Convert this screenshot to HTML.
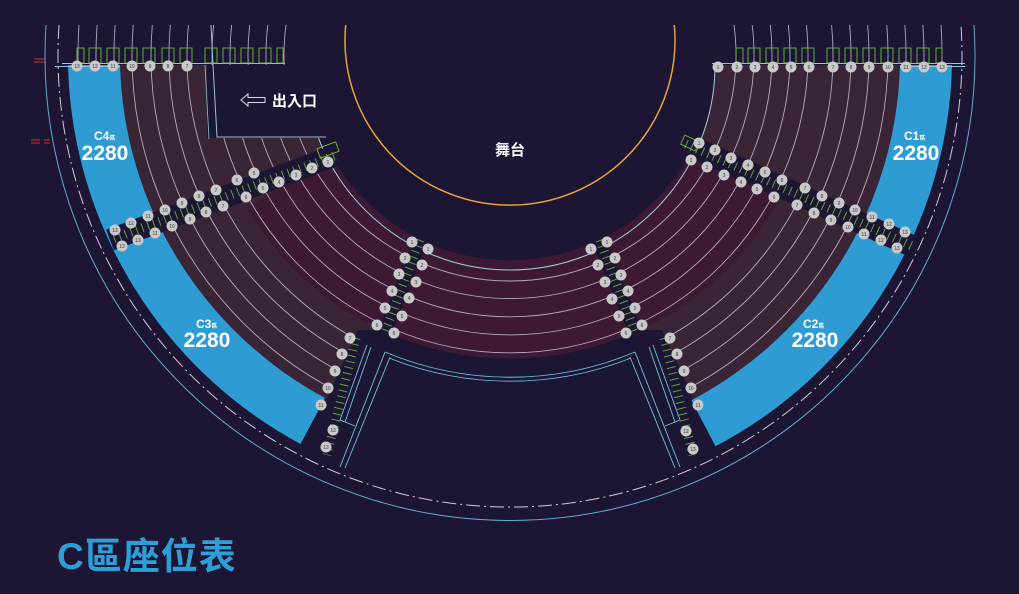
<!DOCTYPE html>
<html><head><meta charset="utf-8">
<style>
html,body{margin:0;padding:0;background:#1c1534;}
svg{display:block}
.c circle{fill:#c9c9c9}
.c text{font:bold 5px "Liberation Sans",sans-serif;fill:#666;text-anchor:middle}
.row{fill:none;stroke:#c9c6d6;stroke-width:0.9;opacity:.85}
.t{font-family:"Liberation Sans","Noto Sans CJK TC",sans-serif;font-weight:bold;fill:#fff}
</style></head>
<body>
<svg width="1019" height="594" viewBox="0 0 1019 594" xmlns="http://www.w3.org/2000/svg">
<defs>
<clipPath id="cl">
<path d="M120,65 A390 390 0 1 0 900,65 L715,65 A205 205 0 1 1 305,65 Z"/>
<rect x="60" y="25" width="900" height="40"/>
</clipPath>
</defs>
<rect width="1019" height="594" fill="#1c1534"/>

<!-- brown ring -->
<path d="M120,65 A390 390 0 1 0 900,65 L715,65 A205 205 0 1 1 305,65 Z" fill="#3a2536"/>
<!-- purple inner -->
<path d="M247,208 A305 305 0 0 0 786,185 L696,142 A205 205 0 0 1 332.5,157.5 Z" fill="#3d1934"/>

<!-- rows -->
<g clip-path="url(#cl)">
<path class="row" d="M286,25 A226 226 0 1 0 734,25"/>
<path class="row" d="M267.8,25 A244 244 0 1 0 752.2,25"/>
<path class="row" d="M249.7,25 A262 262 0 1 0 770.3,25"/>
<path class="row" d="M231.6,25 A280 280 0 1 0 788.4,25"/>
<path class="row" d="M213.5,25 A298 298 0 1 0 806.5,25"/>
<path class="row" d="M188.4,25 A323 323 0 1 0 831.6,25"/>
<path class="row" d="M170.3,25 A341 341 0 1 0 849.7,25"/>
<path class="row" d="M152.3,25 A359 359 0 1 0 867.7,25"/>
<path class="row" d="M133.2,25 A378 378 0 1 0 886.8,25"/>
<path class="row" d="M115.1,25 A396 396 0 1 0 904.9,25"/>
<path class="row" d="M97.1,25 A414 414 0 1 0 922.9,25"/>
<path class="row" d="M79,25 A432 432 0 1 0 941,25"/>
</g>
<path d="M305,65 A205 205 0 1 0 715,65" fill="none" stroke="#9fd0e0" stroke-width="1"/>
<!-- dark bottom center (below purple) -->
<path d="M298,462 L358,330 L381,330 A305 305 0 0 0 639,330 L662,330 L722,462 Z" fill="#1c1534"/>
<!-- exit region -->
<rect x="207" y="65" width="125" height="73" fill="#1c1534"/>
<path d="M211,25 L213,65 L217,137 L326,137" fill="none" stroke="#8fc7dc" stroke-width="1"/>
<path d="M205,65 L209,139" fill="none" stroke="#8fc7dc" stroke-width="0.8"/>

<!-- blue -->
<path d="M68,65 L120,65 A390 390 0 0 0 325,398 L300.5,444 A442 442 0 0 1 68,65 Z" fill="#2e9bd3"/>
<path d="M952,65 L900,65 A390 390 0 0 1 691.4,400.2 L715.5,446.3 A442 442 0 0 0 952,65 Z" fill="#2e9bd3"/>

<!-- passages lines -->
<g fill="none" stroke="#6fc3d8" stroke-width="0.9">
<path d="M385,352 A322 322 0 0 0 635,352"/>
<path d="M389,358 A327 327 0 0 0 631,358"/>
<path d="M385,352 L340,467"/><path d="M390,357 L345,468"/>
<path d="M635,352 L680,467"/><path d="M630,357 L675,468"/>
<path d="M367,345 L340,420 L355,426"/><path d="M371,347 L345,422"/>
<path d="M653,345 L680,420 L665,426"/><path d="M649,347 L675,422"/>
</g>

<!-- outer lines -->
<path d="M46,25 A465 465 0 1 0 974,25" fill="none" stroke="#5fb0cc" stroke-width="1"/>
<path d="M59,25 A452 452 0 1 0 961,25" fill="none" stroke="#d8c8d8" stroke-width="1" stroke-dasharray="14 4 2 4"/>

<!-- stage -->
<path d="M345.7,25 A165 165 0 1 0 674.3,25" fill="none" stroke="#e8a634" stroke-width="1.5"/>

<!-- top lines -->
<g stroke="#8fc7dc" stroke-width="1" fill="none">
<path d="M62,63.5 L285,63.5"/><path d="M55,66.5 L120,66.5"/>
<path d="M712,63.5 L965,63.5"/><path d="M900,66.5 L965,66.5"/>
</g>
<g fill="none" stroke="#6dbb3a" stroke-width="0.9">
<rect x="77" y="48" width="7" height="15"/><rect x="89" y="48" width="12" height="15"/>
<rect x="107" y="48" width="12" height="15"/><rect x="125" y="48" width="12" height="15"/>
<rect x="143" y="48" width="12" height="15"/><rect x="162" y="48" width="12" height="15"/>
<rect x="180" y="48" width="12" height="15"/><rect x="205" y="48" width="12" height="15"/>
<rect x="223" y="48" width="12" height="15"/><rect x="241" y="48" width="12" height="15"/>
<rect x="259" y="48" width="12" height="15"/><rect x="277" y="48" width="6" height="15"/>
<rect x="736" y="48" width="7" height="15"/><rect x="748" y="48" width="12" height="15"/>
<rect x="766" y="48" width="12" height="15"/><rect x="784" y="48" width="12" height="15"/>
<rect x="802" y="48" width="12" height="15"/><rect x="827" y="48" width="12" height="15"/>
<rect x="845" y="48" width="12" height="15"/><rect x="863" y="48" width="12" height="15"/>
<rect x="881" y="48" width="12" height="15"/><rect x="899" y="48" width="12" height="15"/>
<rect x="917" y="48" width="12" height="15"/><rect x="936" y="48" width="6" height="15"/>
</g>

<!-- aisles -->
<g stroke="#1c1534" stroke-linecap="butt">
<line x1="334" y1="156" x2="110" y2="240" stroke-width="22"/>
<line x1="686" y1="144" x2="912" y2="246" stroke-width="22"/>
<line x1="422" y1="238" x2="383" y2="336" stroke-width="14"/>
<line x1="598" y1="238" x2="637" y2="336" stroke-width="14"/>
</g>
<g stroke="#6dbb3a" stroke-width="9" stroke-dasharray="1 5" opacity=".85">
<line x1="334" y1="156" x2="110" y2="240"/>
<line x1="686" y1="144" x2="912" y2="246"/>
<line x1="420" y1="240" x2="385" y2="332"/>
<line x1="600" y1="240" x2="635" y2="332"/>
<line x1="356" y1="338" x2="327" y2="455"/>
<line x1="664" y1="338" x2="693" y2="455"/>
</g>
<rect x="318" y="145" width="20" height="10" transform="rotate(-20 328 150)" fill="none" stroke="#6dbb3a" stroke-width="0.9"/>
<rect x="682" y="138" width="16" height="10" transform="rotate(25 690 143)" fill="none" stroke="#6dbb3a" stroke-width="0.9"/>

<!-- seats -->
<g class="c">
<g><circle cx="77" cy="66" r="5.5"/><text x="77" y="67.8">13</text></g>
<g><circle cx="95" cy="66" r="5.5"/><text x="95" y="67.8">12</text></g>
<g><circle cx="113" cy="66" r="5.5"/><text x="113" y="67.8">11</text></g>
<g><circle cx="132" cy="66" r="5.5"/><text x="132" y="67.8">10</text></g>
<g><circle cx="150" cy="66" r="5.5"/><text x="150" y="67.8">9</text></g>
<g><circle cx="168" cy="66" r="5.5"/><text x="168" y="67.8">8</text></g>
<g><circle cx="187" cy="66" r="5.5"/><text x="187" y="67.8">7</text></g>

<g><circle cx="718" cy="67" r="5.5"/><text x="718" y="68.8">1</text></g>
<g><circle cx="737" cy="67" r="5.5"/><text x="737" y="68.8">2</text></g>
<g><circle cx="755" cy="67" r="5.5"/><text x="755" y="68.8">3</text></g>
<g><circle cx="773" cy="67" r="5.5"/><text x="773" y="68.8">4</text></g>
<g><circle cx="791" cy="67" r="5.5"/><text x="791" y="68.8">5</text></g>
<g><circle cx="809" cy="67" r="5.5"/><text x="809" y="68.8">6</text></g>
<g><circle cx="833" cy="67" r="5.5"/><text x="833" y="68.8">7</text></g>
<g><circle cx="851" cy="67" r="5.5"/><text x="851" y="68.8">8</text></g>
<g><circle cx="869" cy="67" r="5.5"/><text x="869" y="68.8">9</text></g>
<g><circle cx="888" cy="67" r="5.5"/><text x="888" y="68.8">10</text></g>
<g><circle cx="906" cy="67" r="5.5"/><text x="906" y="68.8">11</text></g>
<g><circle cx="924" cy="67" r="5.5"/><text x="924" y="68.8">12</text></g>
<g><circle cx="942" cy="67" r="5.5"/><text x="942" y="68.8">13</text></g>

<g><circle cx="328" cy="162" r="5.5"/><text x="328" y="163.8">1</text></g>
<g><circle cx="312" cy="168" r="5.5"/><text x="312" y="169.8">2</text></g>
<g><circle cx="296" cy="175" r="5.5"/><text x="296" y="176.8">3</text></g>
<g><circle cx="279" cy="182" r="5.5"/><text x="279" y="183.8">4</text></g>
<g><circle cx="254" cy="173" r="5.5"/><text x="254" y="174.8">5</text></g>
<g><circle cx="263" cy="188" r="5.5"/><text x="263" y="189.8">5</text></g>
<g><circle cx="237" cy="180" r="5.5"/><text x="237" y="181.8">6</text></g>
<g><circle cx="246" cy="197" r="5.5"/><text x="246" y="198.8">6</text></g>
<g><circle cx="216" cy="190" r="5.5"/><text x="216" y="191.8">7</text></g>
<g><circle cx="223" cy="206" r="5.5"/><text x="223" y="207.8">7</text></g>
<g><circle cx="199" cy="196" r="5.5"/><text x="199" y="197.8">8</text></g>
<g><circle cx="206" cy="212" r="5.5"/><text x="206" y="213.8">8</text></g>
<g><circle cx="182" cy="203" r="5.5"/><text x="182" y="204.8">9</text></g>
<g><circle cx="190" cy="219" r="5.5"/><text x="190" y="220.8">9</text></g>
<g><circle cx="165" cy="210" r="5.5"/><text x="165" y="211.8">10</text></g>
<g><circle cx="172" cy="226" r="5.5"/><text x="172" y="227.8">10</text></g>
<g><circle cx="148" cy="216" r="5.5"/><text x="148" y="217.8">11</text></g>
<g><circle cx="155" cy="233" r="5.5"/><text x="155" y="234.8">11</text></g>
<g><circle cx="131" cy="223" r="5.5"/><text x="131" y="224.8">12</text></g>
<g><circle cx="138" cy="240" r="5.5"/><text x="138" y="241.8">13</text></g>
<g><circle cx="115" cy="230" r="5.5"/><text x="115" y="231.8">13</text></g>
<g><circle cx="122" cy="246" r="5.5"/><text x="122" y="247.8">13</text></g>

<g><circle cx="699" cy="143" r="5.5"/><text x="699" y="144.8">1</text></g>
<g><circle cx="691" cy="160" r="5.5"/><text x="691" y="161.8">1</text></g>
<g><circle cx="715" cy="150" r="5.5"/><text x="715" y="151.8">2</text></g>
<g><circle cx="707" cy="167" r="5.5"/><text x="707" y="168.8">2</text></g>
<g><circle cx="731" cy="158" r="5.5"/><text x="731" y="159.8">3</text></g>
<g><circle cx="724" cy="175" r="5.5"/><text x="724" y="176.8">3</text></g>
<g><circle cx="748" cy="165" r="5.5"/><text x="748" y="166.8">4</text></g>
<g><circle cx="741" cy="182" r="5.5"/><text x="741" y="183.8">4</text></g>
<g><circle cx="765" cy="172" r="5.5"/><text x="765" y="173.8">5</text></g>
<g><circle cx="757" cy="189" r="5.5"/><text x="757" y="190.8">5</text></g>
<g><circle cx="782" cy="180" r="5.5"/><text x="782" y="181.8">6</text></g>
<g><circle cx="774" cy="197" r="5.5"/><text x="774" y="198.8">6</text></g>
<g><circle cx="805" cy="188" r="5.5"/><text x="805" y="189.8">7</text></g>
<g><circle cx="797" cy="205" r="5.5"/><text x="797" y="206.8">7</text></g>
<g><circle cx="822" cy="196" r="5.5"/><text x="822" y="197.8">8</text></g>
<g><circle cx="814" cy="213" r="5.5"/><text x="814" y="214.8">8</text></g>
<g><circle cx="839" cy="203" r="5.5"/><text x="839" y="204.8">9</text></g>
<g><circle cx="831" cy="220" r="5.5"/><text x="831" y="221.8">9</text></g>
<g><circle cx="855" cy="210" r="5.5"/><text x="855" y="211.8">10</text></g>
<g><circle cx="848" cy="227" r="5.5"/><text x="848" y="228.8">10</text></g>
<g><circle cx="872" cy="217" r="5.5"/><text x="872" y="218.8">11</text></g>
<g><circle cx="864" cy="234" r="5.5"/><text x="864" y="235.8">11</text></g>
<g><circle cx="889" cy="224" r="5.5"/><text x="889" y="225.8">12</text></g>
<g><circle cx="881" cy="240" r="5.5"/><text x="881" y="241.8">12</text></g>
<g><circle cx="905" cy="232" r="5.5"/><text x="905" y="233.8">13</text></g>
<g><circle cx="897" cy="248" r="5.5"/><text x="897" y="249.8">13</text></g>

<g><circle cx="412" cy="242" r="5.5"/><text x="412" y="243.8">1</text></g>
<g><circle cx="428" cy="249" r="5.5"/><text x="428" y="250.8">1</text></g>
<g><circle cx="405" cy="258" r="5.5"/><text x="405" y="259.8">2</text></g>
<g><circle cx="422" cy="265" r="5.5"/><text x="422" y="266.8">2</text></g>
<g><circle cx="399" cy="274" r="5.5"/><text x="399" y="275.8">3</text></g>
<g><circle cx="416" cy="282" r="5.5"/><text x="416" y="283.8">3</text></g>
<g><circle cx="392" cy="291" r="5.5"/><text x="392" y="292.8">4</text></g>
<g><circle cx="409" cy="298" r="5.5"/><text x="409" y="299.8">4</text></g>
<g><circle cx="385" cy="308" r="5.5"/><text x="385" y="309.8">5</text></g>
<g><circle cx="402" cy="316" r="5.5"/><text x="402" y="317.8">5</text></g>
<g><circle cx="377" cy="325" r="5.5"/><text x="377" y="326.8">6</text></g>
<g><circle cx="394" cy="333" r="5.5"/><text x="394" y="334.8">6</text></g>
<g><circle cx="607" cy="242" r="5.5"/><text x="607" y="243.8">1</text></g>
<g><circle cx="591" cy="249" r="5.5"/><text x="591" y="250.8">1</text></g>
<g><circle cx="615" cy="258" r="5.5"/><text x="615" y="259.8">2</text></g>
<g><circle cx="598" cy="265" r="5.5"/><text x="598" y="266.8">2</text></g>
<g><circle cx="621" cy="275" r="5.5"/><text x="621" y="276.8">3</text></g>
<g><circle cx="605" cy="282" r="5.5"/><text x="605" y="283.8">3</text></g>
<g><circle cx="628" cy="291" r="5.5"/><text x="628" y="292.8">4</text></g>
<g><circle cx="612" cy="299" r="5.5"/><text x="612" y="300.8">4</text></g>
<g><circle cx="635" cy="308" r="5.5"/><text x="635" y="309.8">5</text></g>
<g><circle cx="619" cy="316" r="5.5"/><text x="619" y="317.8">5</text></g>
<g><circle cx="642" cy="325" r="5.5"/><text x="642" y="326.8">6</text></g>
<g><circle cx="626" cy="333" r="5.5"/><text x="626" y="334.8">6</text></g>
<g><circle cx="350" cy="338" r="5.5"/><text x="350" y="339.8">7</text></g>
<g><circle cx="342" cy="354" r="5.5"/><text x="342" y="355.8">8</text></g>
<g><circle cx="335" cy="371" r="5.5"/><text x="335" y="372.8">9</text></g>
<g><circle cx="328" cy="388" r="5.5"/><text x="328" y="389.8">10</text></g>
<g><circle cx="321" cy="405" r="5.5"/><text x="321" y="406.8">11</text></g>
<g><circle cx="333" cy="430" r="5.5"/><text x="333" y="431.8">12</text></g>
<g><circle cx="326" cy="447" r="5.5"/><text x="326" y="448.8">13</text></g>
<g><circle cx="670" cy="338" r="5.5"/><text x="670" y="339.8">7</text></g>
<g><circle cx="677" cy="354" r="5.5"/><text x="677" y="355.8">8</text></g>
<g><circle cx="684" cy="371" r="5.5"/><text x="684" y="372.8">9</text></g>
<g><circle cx="691" cy="388" r="5.5"/><text x="691" y="389.8">10</text></g>
<g><circle cx="698" cy="405" r="5.5"/><text x="698" y="406.8">11</text></g>
<g><circle cx="686" cy="431" r="5.5"/><text x="686" y="432.8">12</text></g>
<g><circle cx="693" cy="449" r="5.5"/><text x="693" y="450.8">13</text></g>
</g>

<g stroke="#d23030" stroke-width="1">
<line x1="34" y1="59" x2="45" y2="59"/><line x1="34" y1="62" x2="45" y2="62"/>
<line x1="31" y1="140" x2="40" y2="140"/><line x1="31" y1="143" x2="40" y2="143"/>
<line x1="44" y1="140" x2="50" y2="140"/><line x1="44" y1="143" x2="50" y2="143"/>
</g>

<text class="t" x="510" y="155" font-size="15" text-anchor="middle">舞台</text>
<path d="M241,100 L248,94 L248,97.5 L265,97.5 L265,102.5 L248,102.5 L248,106 Z" fill="none" stroke="#e0d8e8" stroke-width="1"/>
<text class="t" x="272" y="106" font-size="15">出入口</text>

<text class="t" x="94" y="140" font-size="12">C4<tspan font-size="6">區</tspan></text>
<text class="t" x="105" y="160" font-size="21" text-anchor="middle">2280</text>
<text class="t" x="904" y="140" font-size="12">C1<tspan font-size="6">區</tspan></text>
<text class="t" x="916" y="160" font-size="21" text-anchor="middle">2280</text>
<text class="t" x="196" y="328" font-size="12">C3<tspan font-size="6">區</tspan></text>
<text class="t" x="207" y="347" font-size="21" text-anchor="middle">2280</text>
<text class="t" x="803" y="328" font-size="12">C2<tspan font-size="6">區</tspan></text>
<text class="t" x="815" y="347" font-size="21" text-anchor="middle">2280</text>

<text x="57" y="569" font-family="'Liberation Sans','Noto Sans CJK TC',sans-serif" font-weight="bold" font-size="37" fill="#2d9fd6" letter-spacing="1">C區座位表</text>
</svg>
</body></html>
